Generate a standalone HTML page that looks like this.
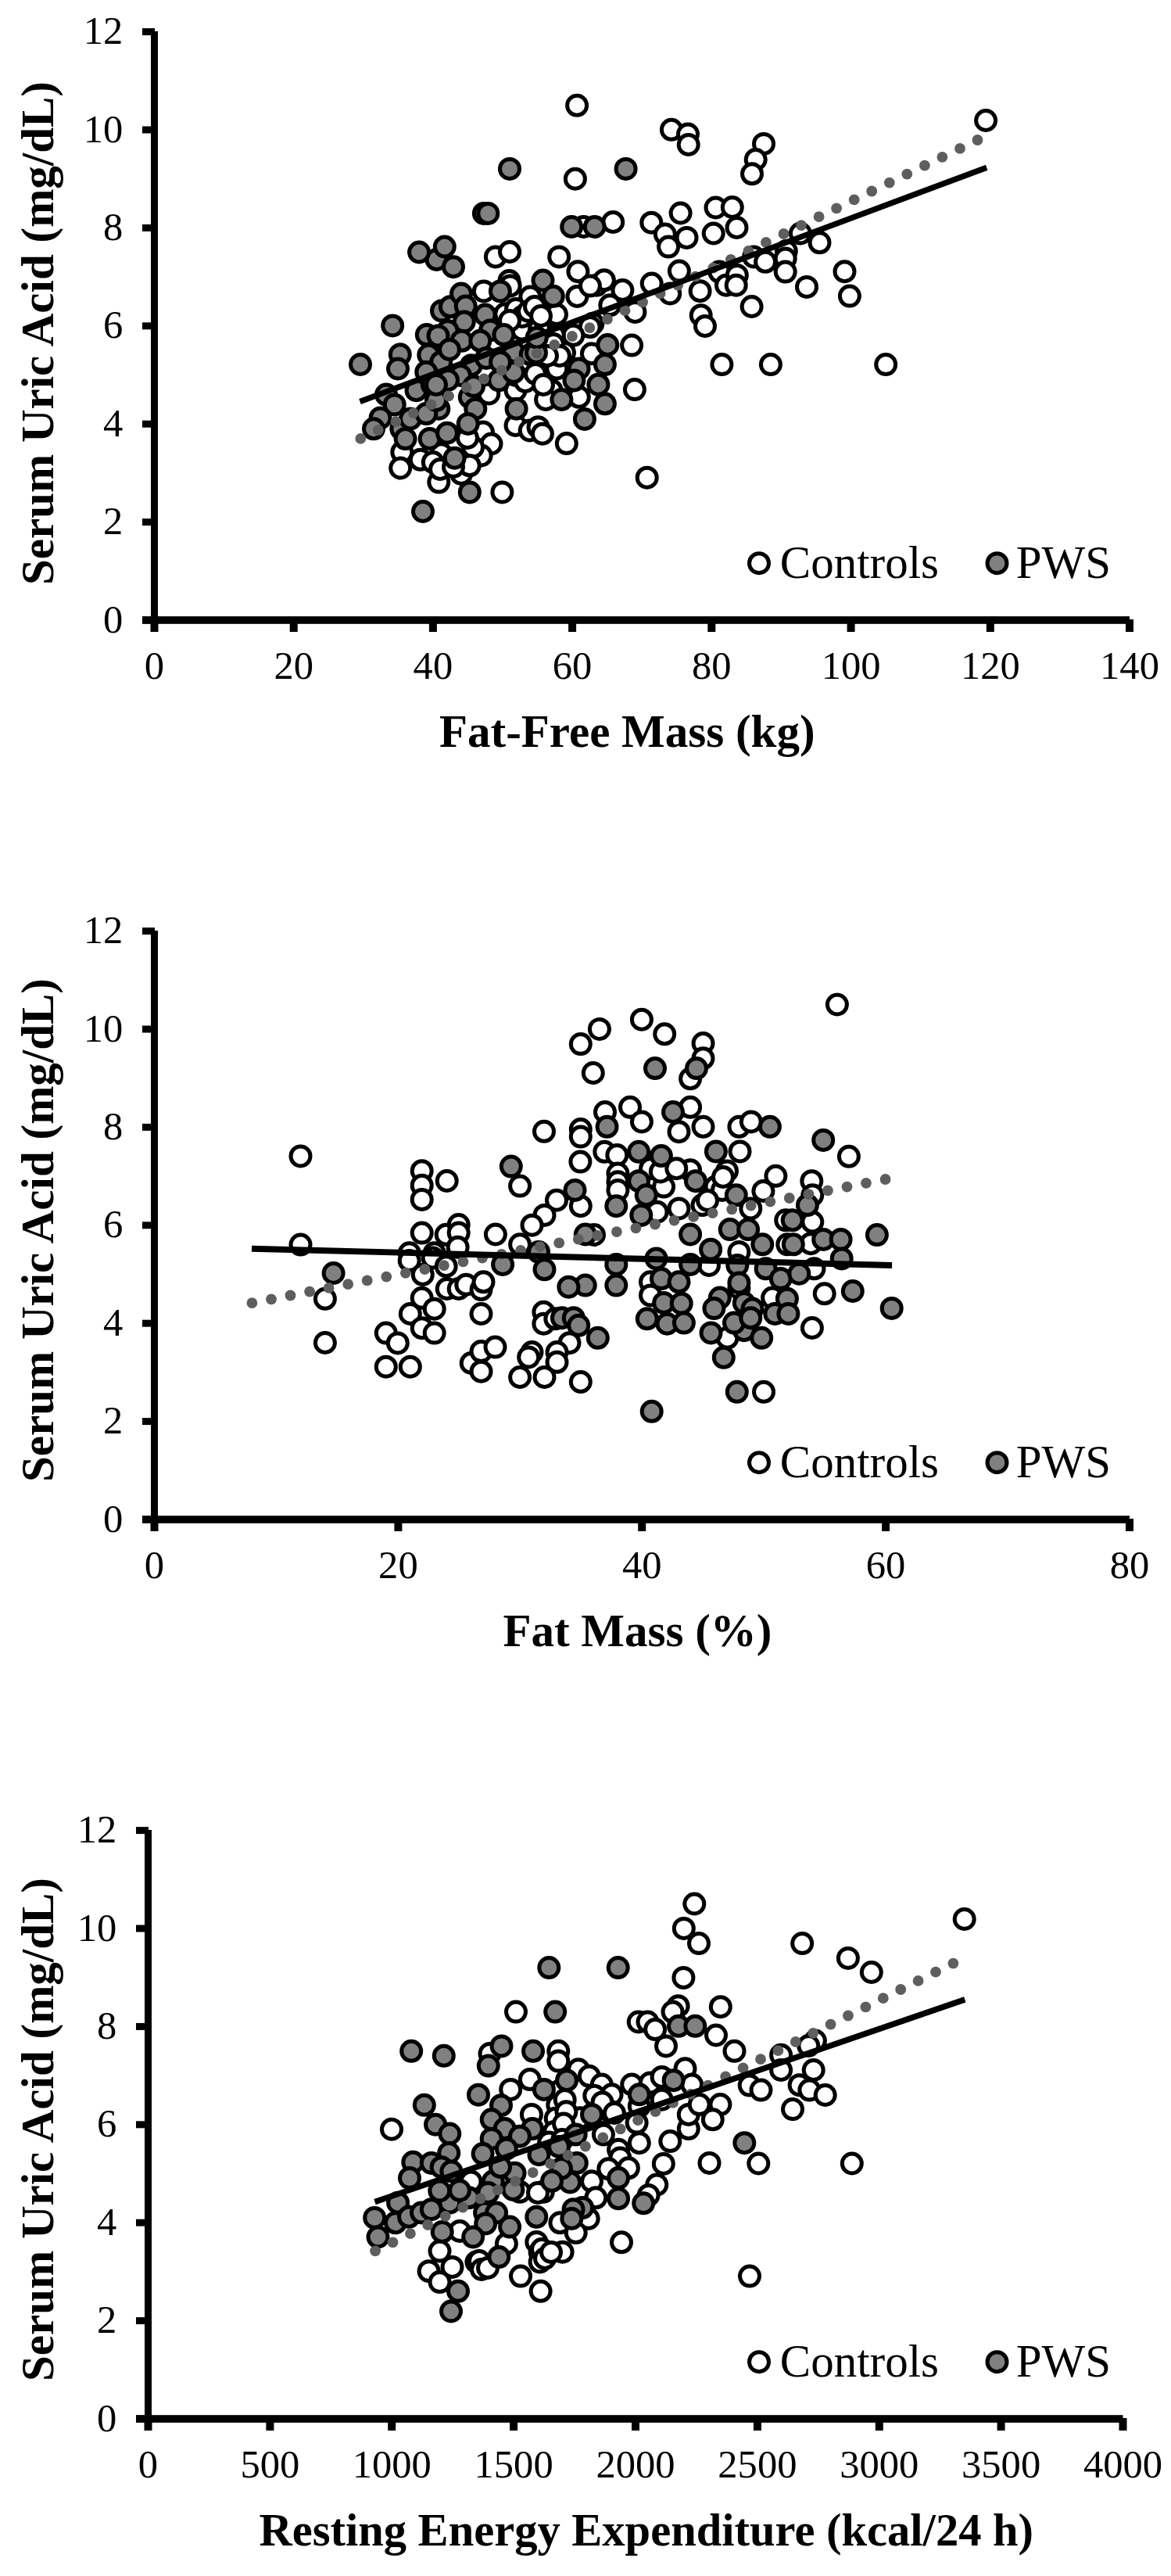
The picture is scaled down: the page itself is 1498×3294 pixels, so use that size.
<!DOCTYPE html>
<html><head><meta charset="utf-8"><style>
html,body{margin:0;padding:0;background:#fff;}
svg{display:block;}
text{font-family:'Liberation Serif', serif;fill:#000;}
</style></head><body>
<svg width="1498" height="3294" viewBox="0 0 1498 3294">
<rect x="0" y="0" width="1498" height="3294" fill="#fff"/>
<circle cx="738.1" cy="134.8" r="12.5" fill="#fff" stroke="#000" stroke-width="5"/>
<circle cx="858.9" cy="165.8" r="12.5" fill="#fff" stroke="#000" stroke-width="5"/>
<circle cx="880.0" cy="171.5" r="12.5" fill="#fff" stroke="#000" stroke-width="5"/>
<circle cx="880.7" cy="185.0" r="12.5" fill="#fff" stroke="#000" stroke-width="5"/>
<circle cx="735.9" cy="228.7" r="12.5" fill="#fff" stroke="#000" stroke-width="5"/>
<circle cx="870.6" cy="272.5" r="12.5" fill="#fff" stroke="#000" stroke-width="5"/>
<circle cx="915.5" cy="265.5" r="12.5" fill="#fff" stroke="#000" stroke-width="5"/>
<circle cx="784.2" cy="284.0" r="12.5" fill="#fff" stroke="#000" stroke-width="5"/>
<circle cx="833.3" cy="284.7" r="12.5" fill="#fff" stroke="#000" stroke-width="5"/>
<circle cx="977.0" cy="183.9" r="12.5" fill="#fff" stroke="#000" stroke-width="5"/>
<circle cx="966.7" cy="204.0" r="12.5" fill="#fff" stroke="#000" stroke-width="5"/>
<circle cx="962.0" cy="222.3" r="12.5" fill="#fff" stroke="#000" stroke-width="5"/>
<circle cx="936.8" cy="265.0" r="12.5" fill="#fff" stroke="#000" stroke-width="5"/>
<circle cx="1261.1" cy="154.0" r="12.5" fill="#fff" stroke="#000" stroke-width="5"/>
<circle cx="633.9" cy="328.4" r="12.5" fill="#fff" stroke="#000" stroke-width="5"/>
<circle cx="652.0" cy="322.0" r="12.5" fill="#fff" stroke="#000" stroke-width="5"/>
<circle cx="618.8" cy="372.4" r="12.5" fill="#fff" stroke="#000" stroke-width="5"/>
<circle cx="651.4" cy="359.0" r="12.5" fill="#fff" stroke="#000" stroke-width="5"/>
<circle cx="652.7" cy="365.4" r="12.5" fill="#fff" stroke="#000" stroke-width="5"/>
<circle cx="646.3" cy="401.2" r="12.5" fill="#fff" stroke="#000" stroke-width="5"/>
<circle cx="668.0" cy="421.7" r="12.5" fill="#fff" stroke="#000" stroke-width="5"/>
<circle cx="673.2" cy="401.2" r="12.5" fill="#fff" stroke="#000" stroke-width="5"/>
<circle cx="678.3" cy="379.5" r="12.5" fill="#fff" stroke="#000" stroke-width="5"/>
<circle cx="746.6" cy="290.0" r="12.5" fill="#fff" stroke="#000" stroke-width="5"/>
<circle cx="850.8" cy="299.6" r="12.5" fill="#fff" stroke="#000" stroke-width="5"/>
<circle cx="878.5" cy="303.9" r="12.5" fill="#fff" stroke="#000" stroke-width="5"/>
<circle cx="855.1" cy="315.6" r="12.5" fill="#fff" stroke="#000" stroke-width="5"/>
<circle cx="912.7" cy="298.5" r="12.5" fill="#fff" stroke="#000" stroke-width="5"/>
<circle cx="715.2" cy="328.4" r="12.5" fill="#fff" stroke="#000" stroke-width="5"/>
<circle cx="739.4" cy="347.2" r="12.5" fill="#fff" stroke="#000" stroke-width="5"/>
<circle cx="738.4" cy="379.0" r="12.5" fill="#fff" stroke="#000" stroke-width="5"/>
<circle cx="763.3" cy="364.7" r="12.5" fill="#fff" stroke="#000" stroke-width="5"/>
<circle cx="772.9" cy="358.3" r="12.5" fill="#fff" stroke="#000" stroke-width="5"/>
<circle cx="796.4" cy="371.0" r="12.5" fill="#fff" stroke="#000" stroke-width="5"/>
<circle cx="833.7" cy="362.6" r="12.5" fill="#fff" stroke="#000" stroke-width="5"/>
<circle cx="868.9" cy="346.6" r="12.5" fill="#fff" stroke="#000" stroke-width="5"/>
<circle cx="857.2" cy="375.4" r="12.5" fill="#fff" stroke="#000" stroke-width="5"/>
<circle cx="895.6" cy="372.2" r="12.5" fill="#fff" stroke="#000" stroke-width="5"/>
<circle cx="920.2" cy="347.6" r="12.5" fill="#fff" stroke="#000" stroke-width="5"/>
<circle cx="929.0" cy="364.7" r="12.5" fill="#fff" stroke="#000" stroke-width="5"/>
<circle cx="896.7" cy="403.2" r="12.5" fill="#fff" stroke="#000" stroke-width="5"/>
<circle cx="902.0" cy="417.0" r="12.5" fill="#fff" stroke="#000" stroke-width="5"/>
<circle cx="808.1" cy="441.6" r="12.5" fill="#fff" stroke="#000" stroke-width="5"/>
<circle cx="923.4" cy="466.1" r="12.5" fill="#fff" stroke="#000" stroke-width="5"/>
<circle cx="812.4" cy="398.9" r="12.5" fill="#fff" stroke="#000" stroke-width="5"/>
<circle cx="780.3" cy="390.3" r="12.5" fill="#fff" stroke="#000" stroke-width="5"/>
<circle cx="758.4" cy="413.8" r="12.5" fill="#fff" stroke="#000" stroke-width="5"/>
<circle cx="754.7" cy="418.1" r="12.5" fill="#fff" stroke="#000" stroke-width="5"/>
<circle cx="733.4" cy="428.8" r="12.5" fill="#fff" stroke="#000" stroke-width="5"/>
<circle cx="756.9" cy="452.3" r="12.5" fill="#fff" stroke="#000" stroke-width="5"/>
<circle cx="722.0" cy="451.0" r="12.5" fill="#fff" stroke="#000" stroke-width="5"/>
<circle cx="712.3" cy="471.4" r="12.5" fill="#fff" stroke="#000" stroke-width="5"/>
<circle cx="701.3" cy="394.6" r="12.5" fill="#fff" stroke="#000" stroke-width="5"/>
<circle cx="942.5" cy="291.0" r="12.5" fill="#fff" stroke="#000" stroke-width="5"/>
<circle cx="1023.9" cy="298.5" r="12.5" fill="#fff" stroke="#000" stroke-width="5"/>
<circle cx="1048.5" cy="310.3" r="12.5" fill="#fff" stroke="#000" stroke-width="5"/>
<circle cx="964.2" cy="328.4" r="12.5" fill="#fff" stroke="#000" stroke-width="5"/>
<circle cx="979.1" cy="334.8" r="12.5" fill="#fff" stroke="#000" stroke-width="5"/>
<circle cx="1005.8" cy="321.0" r="12.5" fill="#fff" stroke="#000" stroke-width="5"/>
<circle cx="1004.7" cy="330.6" r="12.5" fill="#fff" stroke="#000" stroke-width="5"/>
<circle cx="1004.7" cy="347.6" r="12.5" fill="#fff" stroke="#000" stroke-width="5"/>
<circle cx="942.8" cy="351.9" r="12.5" fill="#fff" stroke="#000" stroke-width="5"/>
<circle cx="941.7" cy="364.7" r="12.5" fill="#fff" stroke="#000" stroke-width="5"/>
<circle cx="1032.0" cy="366.9" r="12.5" fill="#fff" stroke="#000" stroke-width="5"/>
<circle cx="1080.5" cy="347.2" r="12.5" fill="#fff" stroke="#000" stroke-width="5"/>
<circle cx="1086.9" cy="378.6" r="12.5" fill="#fff" stroke="#000" stroke-width="5"/>
<circle cx="961.6" cy="392.0" r="12.5" fill="#fff" stroke="#000" stroke-width="5"/>
<circle cx="985.9" cy="466.1" r="12.5" fill="#fff" stroke="#000" stroke-width="5"/>
<circle cx="1133.2" cy="466.1" r="12.5" fill="#fff" stroke="#000" stroke-width="5"/>
<circle cx="625.3" cy="503.5" r="12.5" fill="#fff" stroke="#000" stroke-width="5"/>
<circle cx="659.5" cy="499.2" r="12.5" fill="#fff" stroke="#000" stroke-width="5"/>
<circle cx="659.5" cy="544.0" r="12.5" fill="#fff" stroke="#000" stroke-width="5"/>
<circle cx="677.7" cy="550.5" r="12.5" fill="#fff" stroke="#000" stroke-width="5"/>
<circle cx="617.9" cy="552.6" r="12.5" fill="#fff" stroke="#000" stroke-width="5"/>
<circle cx="628.5" cy="567.5" r="12.5" fill="#fff" stroke="#000" stroke-width="5"/>
<circle cx="615.7" cy="582.5" r="12.5" fill="#fff" stroke="#000" stroke-width="5"/>
<circle cx="514.3" cy="578.2" r="12.5" fill="#fff" stroke="#000" stroke-width="5"/>
<circle cx="512.2" cy="598.5" r="12.5" fill="#fff" stroke="#000" stroke-width="5"/>
<circle cx="537.8" cy="587.8" r="12.5" fill="#fff" stroke="#000" stroke-width="5"/>
<circle cx="564.5" cy="580.3" r="12.5" fill="#fff" stroke="#000" stroke-width="5"/>
<circle cx="561.3" cy="616.6" r="12.5" fill="#fff" stroke="#000" stroke-width="5"/>
<circle cx="590.1" cy="606.0" r="12.5" fill="#fff" stroke="#000" stroke-width="5"/>
<circle cx="642.4" cy="629.4" r="12.5" fill="#fff" stroke="#000" stroke-width="5"/>
<circle cx="605.1" cy="571.8" r="12.5" fill="#fff" stroke="#000" stroke-width="5"/>
<circle cx="553.8" cy="591.0" r="12.5" fill="#fff" stroke="#000" stroke-width="5"/>
<circle cx="600.8" cy="595.3" r="12.5" fill="#fff" stroke="#000" stroke-width="5"/>
<circle cx="740.8" cy="507.8" r="12.5" fill="#fff" stroke="#000" stroke-width="5"/>
<circle cx="705.6" cy="499.2" r="12.5" fill="#fff" stroke="#000" stroke-width="5"/>
<circle cx="698.1" cy="511.0" r="12.5" fill="#fff" stroke="#000" stroke-width="5"/>
<circle cx="684.3" cy="484.3" r="12.5" fill="#fff" stroke="#000" stroke-width="5"/>
<circle cx="688.5" cy="546.2" r="12.5" fill="#fff" stroke="#000" stroke-width="5"/>
<circle cx="693.9" cy="554.7" r="12.5" fill="#fff" stroke="#000" stroke-width="5"/>
<circle cx="724.8" cy="567.1" r="12.5" fill="#fff" stroke="#000" stroke-width="5"/>
<circle cx="811.9" cy="498.1" r="12.5" fill="#fff" stroke="#000" stroke-width="5"/>
<circle cx="827.7" cy="610.7" r="12.5" fill="#fff" stroke="#000" stroke-width="5"/>
<circle cx="700.0" cy="397.0" r="12.5" fill="#fff" stroke="#000" stroke-width="5"/>
<circle cx="712.0" cy="402.0" r="12.5" fill="#fff" stroke="#000" stroke-width="5"/>
<circle cx="754.9" cy="365.6" r="12.5" fill="#fff" stroke="#000" stroke-width="5"/>
<circle cx="708.8" cy="428.8" r="12.5" fill="#fff" stroke="#000" stroke-width="5"/>
<circle cx="690.0" cy="420.0" r="12.5" fill="#fff" stroke="#000" stroke-width="5"/>
<circle cx="700.0" cy="440.0" r="12.5" fill="#fff" stroke="#000" stroke-width="5"/>
<circle cx="670.0" cy="402.0" r="12.5" fill="#fff" stroke="#000" stroke-width="5"/>
<circle cx="563.0" cy="600.0" r="12.5" fill="#fff" stroke="#000" stroke-width="5"/>
<circle cx="580.0" cy="597.0" r="12.5" fill="#fff" stroke="#000" stroke-width="5"/>
<circle cx="598.0" cy="560.0" r="12.5" fill="#fff" stroke="#000" stroke-width="5"/>
<circle cx="660.0" cy="395.0" r="12.5" fill="#fff" stroke="#000" stroke-width="5"/>
<circle cx="668.0" cy="405.0" r="12.5" fill="#fff" stroke="#000" stroke-width="5"/>
<circle cx="676.0" cy="398.0" r="12.5" fill="#fff" stroke="#000" stroke-width="5"/>
<circle cx="684.0" cy="392.0" r="12.5" fill="#fff" stroke="#000" stroke-width="5"/>
<circle cx="692.0" cy="404.0" r="12.5" fill="#fff" stroke="#000" stroke-width="5"/>
<circle cx="652.0" cy="410.0" r="12.5" fill="#fff" stroke="#000" stroke-width="5"/>
<circle cx="708.0" cy="440.0" r="12.5" fill="#fff" stroke="#000" stroke-width="5"/>
<circle cx="716.0" cy="455.0" r="12.5" fill="#fff" stroke="#000" stroke-width="5"/>
<circle cx="700.0" cy="455.0" r="12.5" fill="#fff" stroke="#000" stroke-width="5"/>
<circle cx="660.0" cy="480.0" r="12.5" fill="#fff" stroke="#000" stroke-width="5"/>
<circle cx="672.0" cy="488.0" r="12.5" fill="#fff" stroke="#000" stroke-width="5"/>
<circle cx="685.0" cy="478.0" r="12.5" fill="#fff" stroke="#000" stroke-width="5"/>
<circle cx="695.0" cy="492.0" r="12.5" fill="#fff" stroke="#000" stroke-width="5"/>
<circle cx="652.0" cy="215.9" r="12.5" fill="#808080" stroke="#000" stroke-width="5"/>
<circle cx="618.9" cy="272.9" r="12.5" fill="#808080" stroke="#000" stroke-width="5"/>
<circle cx="624.3" cy="272.9" r="12.5" fill="#808080" stroke="#000" stroke-width="5"/>
<circle cx="800.6" cy="215.9" r="12.5" fill="#808080" stroke="#000" stroke-width="5"/>
<circle cx="558.5" cy="332.0" r="12.5" fill="#808080" stroke="#000" stroke-width="5"/>
<circle cx="536.1" cy="322.5" r="12.5" fill="#808080" stroke="#000" stroke-width="5"/>
<circle cx="568.8" cy="315.5" r="12.5" fill="#808080" stroke="#000" stroke-width="5"/>
<circle cx="580.0" cy="341.2" r="12.5" fill="#808080" stroke="#000" stroke-width="5"/>
<circle cx="502.2" cy="416.4" r="12.5" fill="#808080" stroke="#000" stroke-width="5"/>
<circle cx="461.0" cy="466.0" r="12.5" fill="#808080" stroke="#000" stroke-width="5"/>
<circle cx="511.8" cy="453.3" r="12.5" fill="#808080" stroke="#000" stroke-width="5"/>
<circle cx="509.0" cy="471.5" r="12.5" fill="#808080" stroke="#000" stroke-width="5"/>
<circle cx="565.0" cy="397.4" r="12.5" fill="#808080" stroke="#000" stroke-width="5"/>
<circle cx="575.9" cy="392.3" r="12.5" fill="#808080" stroke="#000" stroke-width="5"/>
<circle cx="590.0" cy="375.6" r="12.5" fill="#808080" stroke="#000" stroke-width="5"/>
<circle cx="595.7" cy="391.6" r="12.5" fill="#808080" stroke="#000" stroke-width="5"/>
<circle cx="593.8" cy="411.5" r="12.5" fill="#808080" stroke="#000" stroke-width="5"/>
<circle cx="572.7" cy="423.0" r="12.5" fill="#808080" stroke="#000" stroke-width="5"/>
<circle cx="545.8" cy="428.1" r="12.5" fill="#808080" stroke="#000" stroke-width="5"/>
<circle cx="560.5" cy="429.4" r="12.5" fill="#808080" stroke="#000" stroke-width="5"/>
<circle cx="590.6" cy="435.8" r="12.5" fill="#808080" stroke="#000" stroke-width="5"/>
<circle cx="620.7" cy="402.5" r="12.5" fill="#808080" stroke="#000" stroke-width="5"/>
<circle cx="627.1" cy="422.4" r="12.5" fill="#808080" stroke="#000" stroke-width="5"/>
<circle cx="614.3" cy="435.8" r="12.5" fill="#808080" stroke="#000" stroke-width="5"/>
<circle cx="644.4" cy="428.1" r="12.5" fill="#808080" stroke="#000" stroke-width="5"/>
<circle cx="639.9" cy="372.4" r="12.5" fill="#808080" stroke="#000" stroke-width="5"/>
<circle cx="548.3" cy="453.8" r="12.5" fill="#808080" stroke="#000" stroke-width="5"/>
<circle cx="564.3" cy="462.7" r="12.5" fill="#808080" stroke="#000" stroke-width="5"/>
<circle cx="657.2" cy="449.9" r="12.5" fill="#808080" stroke="#000" stroke-width="5"/>
<circle cx="545.3" cy="475.7" r="12.5" fill="#808080" stroke="#000" stroke-width="5"/>
<circle cx="602.9" cy="467.2" r="12.5" fill="#808080" stroke="#000" stroke-width="5"/>
<circle cx="678.7" cy="453.3" r="12.5" fill="#808080" stroke="#000" stroke-width="5"/>
<circle cx="731.2" cy="290.0" r="12.5" fill="#808080" stroke="#000" stroke-width="5"/>
<circle cx="760.7" cy="290.0" r="12.5" fill="#808080" stroke="#000" stroke-width="5"/>
<circle cx="694.5" cy="358.5" r="12.5" fill="#808080" stroke="#000" stroke-width="5"/>
<circle cx="707.8" cy="378.8" r="12.5" fill="#808080" stroke="#000" stroke-width="5"/>
<circle cx="777.3" cy="441.0" r="12.5" fill="#808080" stroke="#000" stroke-width="5"/>
<circle cx="773.9" cy="466.1" r="12.5" fill="#808080" stroke="#000" stroke-width="5"/>
<circle cx="740.6" cy="471.5" r="12.5" fill="#808080" stroke="#000" stroke-width="5"/>
<circle cx="686.0" cy="451.0" r="12.5" fill="#808080" stroke="#000" stroke-width="5"/>
<circle cx="686.7" cy="431.7" r="12.5" fill="#808080" stroke="#000" stroke-width="5"/>
<circle cx="494.0" cy="504.6" r="12.5" fill="#808080" stroke="#000" stroke-width="5"/>
<circle cx="504.7" cy="517.4" r="12.5" fill="#808080" stroke="#000" stroke-width="5"/>
<circle cx="486.6" cy="534.4" r="12.5" fill="#808080" stroke="#000" stroke-width="5"/>
<circle cx="478.0" cy="548.3" r="12.5" fill="#808080" stroke="#000" stroke-width="5"/>
<circle cx="513.3" cy="548.3" r="12.5" fill="#808080" stroke="#000" stroke-width="5"/>
<circle cx="518.6" cy="561.1" r="12.5" fill="#808080" stroke="#000" stroke-width="5"/>
<circle cx="525.0" cy="535.5" r="12.5" fill="#808080" stroke="#000" stroke-width="5"/>
<circle cx="532.5" cy="499.2" r="12.5" fill="#808080" stroke="#000" stroke-width="5"/>
<circle cx="552.8" cy="491.7" r="12.5" fill="#808080" stroke="#000" stroke-width="5"/>
<circle cx="561.3" cy="522.7" r="12.5" fill="#808080" stroke="#000" stroke-width="5"/>
<circle cx="549.6" cy="561.1" r="12.5" fill="#808080" stroke="#000" stroke-width="5"/>
<circle cx="572.0" cy="553.7" r="12.5" fill="#808080" stroke="#000" stroke-width="5"/>
<circle cx="545.3" cy="529.1" r="12.5" fill="#808080" stroke="#000" stroke-width="5"/>
<circle cx="638.2" cy="486.4" r="12.5" fill="#808080" stroke="#000" stroke-width="5"/>
<circle cx="600.8" cy="507.8" r="12.5" fill="#808080" stroke="#000" stroke-width="5"/>
<circle cx="608.3" cy="522.7" r="12.5" fill="#808080" stroke="#000" stroke-width="5"/>
<circle cx="598.7" cy="541.9" r="12.5" fill="#808080" stroke="#000" stroke-width="5"/>
<circle cx="581.6" cy="585.7" r="12.5" fill="#808080" stroke="#000" stroke-width="5"/>
<circle cx="600.8" cy="629.4" r="12.5" fill="#808080" stroke="#000" stroke-width="5"/>
<circle cx="541.0" cy="654.0" r="12.5" fill="#808080" stroke="#000" stroke-width="5"/>
<circle cx="660.6" cy="522.7" r="12.5" fill="#808080" stroke="#000" stroke-width="5"/>
<circle cx="734.4" cy="486.4" r="12.5" fill="#808080" stroke="#000" stroke-width="5"/>
<circle cx="765.4" cy="491.7" r="12.5" fill="#808080" stroke="#000" stroke-width="5"/>
<circle cx="718.4" cy="511.0" r="12.5" fill="#808080" stroke="#000" stroke-width="5"/>
<circle cx="773.9" cy="516.3" r="12.5" fill="#808080" stroke="#000" stroke-width="5"/>
<circle cx="747.9" cy="535.9" r="12.5" fill="#808080" stroke="#000" stroke-width="5"/>
<circle cx="589.0" cy="480.0" r="12.5" fill="#808080" stroke="#000" stroke-width="5"/>
<circle cx="573.0" cy="486.0" r="12.5" fill="#808080" stroke="#000" stroke-width="5"/>
<circle cx="558.0" cy="512.0" r="12.5" fill="#808080" stroke="#000" stroke-width="5"/>
<circle cx="606.0" cy="494.0" r="12.5" fill="#808080" stroke="#000" stroke-width="5"/>
<circle cx="657.0" cy="476.0" r="12.5" fill="#808080" stroke="#000" stroke-width="5"/>
<circle cx="558.0" cy="492.0" r="12.5" fill="#808080" stroke="#000" stroke-width="5"/>
<circle cx="622.0" cy="458.0" r="12.5" fill="#808080" stroke="#000" stroke-width="5"/>
<circle cx="640.0" cy="463.0" r="12.5" fill="#808080" stroke="#000" stroke-width="5"/>
<circle cx="575.0" cy="447.0" r="12.5" fill="#808080" stroke="#000" stroke-width="5"/>
<circle cx="461.3" cy="560.9" r="6.9" fill="#5e5e5e"/>
<circle cx="483.8" cy="550.0" r="6.9" fill="#5e5e5e"/>
<circle cx="506.4" cy="539.1" r="6.9" fill="#5e5e5e"/>
<circle cx="528.9" cy="528.2" r="6.9" fill="#5e5e5e"/>
<circle cx="551.5" cy="517.3" r="6.9" fill="#5e5e5e"/>
<circle cx="574.0" cy="506.3" r="6.9" fill="#5e5e5e"/>
<circle cx="596.6" cy="495.4" r="6.9" fill="#5e5e5e"/>
<circle cx="619.1" cy="484.5" r="6.9" fill="#5e5e5e"/>
<circle cx="641.7" cy="473.6" r="6.9" fill="#5e5e5e"/>
<circle cx="664.2" cy="462.7" r="6.9" fill="#5e5e5e"/>
<circle cx="686.8" cy="451.8" r="6.9" fill="#5e5e5e"/>
<circle cx="709.3" cy="440.9" r="6.9" fill="#5e5e5e"/>
<circle cx="731.9" cy="430.0" r="6.9" fill="#5e5e5e"/>
<circle cx="754.4" cy="419.1" r="6.9" fill="#5e5e5e"/>
<circle cx="777.0" cy="408.1" r="6.9" fill="#5e5e5e"/>
<circle cx="799.5" cy="397.2" r="6.9" fill="#5e5e5e"/>
<circle cx="822.1" cy="386.3" r="6.9" fill="#5e5e5e"/>
<circle cx="844.6" cy="375.4" r="6.9" fill="#5e5e5e"/>
<circle cx="867.2" cy="364.5" r="6.9" fill="#5e5e5e"/>
<circle cx="889.7" cy="353.6" r="6.9" fill="#5e5e5e"/>
<circle cx="912.3" cy="342.7" r="6.9" fill="#5e5e5e"/>
<circle cx="934.8" cy="331.8" r="6.9" fill="#5e5e5e"/>
<circle cx="957.4" cy="320.8" r="6.9" fill="#5e5e5e"/>
<circle cx="979.9" cy="309.9" r="6.9" fill="#5e5e5e"/>
<circle cx="1002.5" cy="299.0" r="6.9" fill="#5e5e5e"/>
<circle cx="1025.0" cy="288.1" r="6.9" fill="#5e5e5e"/>
<circle cx="1047.6" cy="277.2" r="6.9" fill="#5e5e5e"/>
<circle cx="1070.1" cy="266.3" r="6.9" fill="#5e5e5e"/>
<circle cx="1092.7" cy="255.4" r="6.9" fill="#5e5e5e"/>
<circle cx="1115.2" cy="244.5" r="6.9" fill="#5e5e5e"/>
<circle cx="1137.8" cy="233.6" r="6.9" fill="#5e5e5e"/>
<circle cx="1160.3" cy="222.6" r="6.9" fill="#5e5e5e"/>
<circle cx="1182.9" cy="211.7" r="6.9" fill="#5e5e5e"/>
<circle cx="1205.4" cy="200.8" r="6.9" fill="#5e5e5e"/>
<circle cx="1228.0" cy="189.9" r="6.9" fill="#5e5e5e"/>
<circle cx="1250.5" cy="179.0" r="6.9" fill="#5e5e5e"/>
<line x1="460.5" y1="513.5" x2="1262.2" y2="214.2" stroke="#000" stroke-width="7.40"/>
<rect x="193.0" y="40.0" width="9.0" height="768.0" fill="#000"/>
<rect x="182.0" y="788.1" width="1263.0" height="9.7" fill="#000"/>
<rect x="182.0" y="788.5" width="16.0" height="9.0" fill="#000"/>
<text x="157.4" y="808.6" font-size="50.57" font-weight="normal" text-anchor="end" >0</text>
<rect x="182.0" y="663.1" width="16.0" height="9.0" fill="#000"/>
<text x="157.4" y="683.2" font-size="50.57" font-weight="normal" text-anchor="end" >2</text>
<rect x="182.0" y="537.7" width="16.0" height="9.0" fill="#000"/>
<text x="157.4" y="557.8" font-size="50.57" font-weight="normal" text-anchor="end" >4</text>
<rect x="182.0" y="412.3" width="16.0" height="9.0" fill="#000"/>
<text x="157.4" y="432.4" font-size="50.57" font-weight="normal" text-anchor="end" >6</text>
<rect x="182.0" y="286.9" width="16.0" height="9.0" fill="#000"/>
<text x="157.4" y="307.0" font-size="50.57" font-weight="normal" text-anchor="end" >8</text>
<rect x="182.0" y="161.5" width="16.0" height="9.0" fill="#000"/>
<text x="157.4" y="181.6" font-size="50.57" font-weight="normal" text-anchor="end" >10</text>
<rect x="182.0" y="36.1" width="16.0" height="9.0" fill="#000"/>
<text x="157.4" y="56.2" font-size="50.57" font-weight="normal" text-anchor="end" >12</text>
<rect x="192.5" y="792.0" width="10.0" height="16.0" fill="#000"/>
<text x="197.5" y="867.5" font-size="50.57" font-weight="normal" text-anchor="middle" >0</text>
<rect x="370.7" y="792.0" width="10.0" height="16.0" fill="#000"/>
<text x="375.7" y="867.5" font-size="50.57" font-weight="normal" text-anchor="middle" >20</text>
<rect x="548.9" y="792.0" width="10.0" height="16.0" fill="#000"/>
<text x="553.9" y="867.5" font-size="50.57" font-weight="normal" text-anchor="middle" >40</text>
<rect x="727.1" y="792.0" width="10.0" height="16.0" fill="#000"/>
<text x="732.1" y="867.5" font-size="50.57" font-weight="normal" text-anchor="middle" >60</text>
<rect x="905.3" y="792.0" width="10.0" height="16.0" fill="#000"/>
<text x="910.3" y="867.5" font-size="50.57" font-weight="normal" text-anchor="middle" >80</text>
<rect x="1083.6" y="792.0" width="10.0" height="16.0" fill="#000"/>
<text x="1088.6" y="867.5" font-size="50.57" font-weight="normal" text-anchor="middle" >100</text>
<rect x="1261.8" y="792.0" width="10.0" height="16.0" fill="#000"/>
<text x="1266.8" y="867.5" font-size="50.57" font-weight="normal" text-anchor="middle" >120</text>
<rect x="1440.0" y="792.0" width="10.0" height="16.0" fill="#000"/>
<text x="1445.0" y="867.5" font-size="50.57" font-weight="normal" text-anchor="middle" >140</text>
<text x="562.0" y="955.0" font-size="59" font-weight="bold" text-anchor="start" >Fat-Free Mass (kg)</text>
<text transform="translate(67.6,426) rotate(-90)" x="0" y="0" font-size="59" font-weight="bold" text-anchor="middle">Serum Uric Acid (mg/dL)</text>
<circle cx="971" cy="720.2" r="12.5" fill="#fff" stroke="#000" stroke-width="5"/>
<text x="997.8" y="739.2" font-size="59" font-weight="normal" text-anchor="start" >Controls</text>
<circle cx="1275.5" cy="720.2" r="12.5" fill="#808080" stroke="#000" stroke-width="5"/>
<text x="1299.8" y="739.2" font-size="59" font-weight="normal" text-anchor="start" >PWS</text>
<circle cx="384.5" cy="1478.4" r="12.5" fill="#fff" stroke="#000" stroke-width="5"/>
<circle cx="539.7" cy="1497.2" r="12.5" fill="#fff" stroke="#000" stroke-width="5"/>
<circle cx="539.7" cy="1515.8" r="12.5" fill="#fff" stroke="#000" stroke-width="5"/>
<circle cx="539.7" cy="1533.9" r="12.5" fill="#fff" stroke="#000" stroke-width="5"/>
<circle cx="571.7" cy="1510.0" r="12.5" fill="#fff" stroke="#000" stroke-width="5"/>
<circle cx="384.5" cy="1591.6" r="12.5" fill="#fff" stroke="#000" stroke-width="5"/>
<circle cx="539.7" cy="1576.6" r="12.5" fill="#fff" stroke="#000" stroke-width="5"/>
<circle cx="570.7" cy="1578.8" r="12.5" fill="#fff" stroke="#000" stroke-width="5"/>
<circle cx="586.7" cy="1566.0" r="12.5" fill="#fff" stroke="#000" stroke-width="5"/>
<circle cx="586.7" cy="1576.6" r="12.5" fill="#fff" stroke="#000" stroke-width="5"/>
<circle cx="585.6" cy="1594.8" r="12.5" fill="#fff" stroke="#000" stroke-width="5"/>
<circle cx="523.7" cy="1602.3" r="12.5" fill="#fff" stroke="#000" stroke-width="5"/>
<circle cx="555.7" cy="1602.3" r="12.5" fill="#fff" stroke="#000" stroke-width="5"/>
<circle cx="523.7" cy="1612.0" r="12.5" fill="#fff" stroke="#000" stroke-width="5"/>
<circle cx="553.6" cy="1608.5" r="12.5" fill="#fff" stroke="#000" stroke-width="5"/>
<circle cx="570.7" cy="1619.2" r="12.5" fill="#fff" stroke="#000" stroke-width="5"/>
<circle cx="540.8" cy="1629.9" r="12.5" fill="#fff" stroke="#000" stroke-width="5"/>
<circle cx="415.9" cy="1660.8" r="12.5" fill="#fff" stroke="#000" stroke-width="5"/>
<circle cx="415.9" cy="1717.0" r="12.5" fill="#fff" stroke="#000" stroke-width="5"/>
<circle cx="493.8" cy="1704.6" r="12.5" fill="#fff" stroke="#000" stroke-width="5"/>
<circle cx="508.8" cy="1717.4" r="12.5" fill="#fff" stroke="#000" stroke-width="5"/>
<circle cx="493.8" cy="1747.7" r="12.5" fill="#fff" stroke="#000" stroke-width="5"/>
<circle cx="524.8" cy="1747.7" r="12.5" fill="#fff" stroke="#000" stroke-width="5"/>
<circle cx="524.8" cy="1680.0" r="12.5" fill="#fff" stroke="#000" stroke-width="5"/>
<circle cx="539.7" cy="1659.8" r="12.5" fill="#fff" stroke="#000" stroke-width="5"/>
<circle cx="555.7" cy="1673.7" r="12.5" fill="#fff" stroke="#000" stroke-width="5"/>
<circle cx="539.7" cy="1698.2" r="12.5" fill="#fff" stroke="#000" stroke-width="5"/>
<circle cx="555.7" cy="1704.6" r="12.5" fill="#fff" stroke="#000" stroke-width="5"/>
<circle cx="571.7" cy="1648.0" r="12.5" fill="#fff" stroke="#000" stroke-width="5"/>
<circle cx="586.7" cy="1648.0" r="12.5" fill="#fff" stroke="#000" stroke-width="5"/>
<circle cx="596.3" cy="1642.7" r="12.5" fill="#fff" stroke="#000" stroke-width="5"/>
<circle cx="615.5" cy="1649.1" r="12.5" fill="#fff" stroke="#000" stroke-width="5"/>
<circle cx="615.5" cy="1680.0" r="12.5" fill="#fff" stroke="#000" stroke-width="5"/>
<circle cx="602.7" cy="1743.0" r="12.5" fill="#fff" stroke="#000" stroke-width="5"/>
<circle cx="615.5" cy="1728.1" r="12.5" fill="#fff" stroke="#000" stroke-width="5"/>
<circle cx="615.5" cy="1753.7" r="12.5" fill="#fff" stroke="#000" stroke-width="5"/>
<circle cx="766.9" cy="1315.9" r="12.5" fill="#fff" stroke="#000" stroke-width="5"/>
<circle cx="742.8" cy="1335.1" r="12.5" fill="#fff" stroke="#000" stroke-width="5"/>
<circle cx="820.9" cy="1303.7" r="12.5" fill="#fff" stroke="#000" stroke-width="5"/>
<circle cx="850.2" cy="1322.3" r="12.5" fill="#fff" stroke="#000" stroke-width="5"/>
<circle cx="758.8" cy="1372.0" r="12.5" fill="#fff" stroke="#000" stroke-width="5"/>
<circle cx="774.0" cy="1422.0" r="12.5" fill="#fff" stroke="#000" stroke-width="5"/>
<circle cx="806.0" cy="1415.8" r="12.5" fill="#fff" stroke="#000" stroke-width="5"/>
<circle cx="820.9" cy="1434.4" r="12.5" fill="#fff" stroke="#000" stroke-width="5"/>
<circle cx="696.0" cy="1446.8" r="12.5" fill="#fff" stroke="#000" stroke-width="5"/>
<circle cx="742.8" cy="1444.0" r="12.5" fill="#fff" stroke="#000" stroke-width="5"/>
<circle cx="742.8" cy="1453.6" r="12.5" fill="#fff" stroke="#000" stroke-width="5"/>
<circle cx="1070.9" cy="1284.5" r="12.5" fill="#fff" stroke="#000" stroke-width="5"/>
<circle cx="899.5" cy="1334.0" r="12.5" fill="#fff" stroke="#000" stroke-width="5"/>
<circle cx="899.5" cy="1353.3" r="12.5" fill="#fff" stroke="#000" stroke-width="5"/>
<circle cx="883.1" cy="1379.3" r="12.5" fill="#fff" stroke="#000" stroke-width="5"/>
<circle cx="883.1" cy="1415.8" r="12.5" fill="#fff" stroke="#000" stroke-width="5"/>
<circle cx="899.5" cy="1440.8" r="12.5" fill="#fff" stroke="#000" stroke-width="5"/>
<circle cx="868.5" cy="1447.2" r="12.5" fill="#fff" stroke="#000" stroke-width="5"/>
<circle cx="945.4" cy="1440.8" r="12.5" fill="#fff" stroke="#000" stroke-width="5"/>
<circle cx="960.8" cy="1434.4" r="12.5" fill="#fff" stroke="#000" stroke-width="5"/>
<circle cx="665.1" cy="1516.6" r="12.5" fill="#fff" stroke="#000" stroke-width="5"/>
<circle cx="712.0" cy="1534.7" r="12.5" fill="#fff" stroke="#000" stroke-width="5"/>
<circle cx="742.8" cy="1542.2" r="12.5" fill="#fff" stroke="#000" stroke-width="5"/>
<circle cx="696.5" cy="1553.9" r="12.5" fill="#fff" stroke="#000" stroke-width="5"/>
<circle cx="680.5" cy="1566.7" r="12.5" fill="#fff" stroke="#000" stroke-width="5"/>
<circle cx="633.9" cy="1578.5" r="12.5" fill="#fff" stroke="#000" stroke-width="5"/>
<circle cx="665.1" cy="1591.3" r="12.5" fill="#fff" stroke="#000" stroke-width="5"/>
<circle cx="618.5" cy="1639.3" r="12.5" fill="#fff" stroke="#000" stroke-width="5"/>
<circle cx="742.4" cy="1485.6" r="12.5" fill="#fff" stroke="#000" stroke-width="5"/>
<circle cx="773.3" cy="1472.8" r="12.5" fill="#fff" stroke="#000" stroke-width="5"/>
<circle cx="789.3" cy="1477.1" r="12.5" fill="#fff" stroke="#000" stroke-width="5"/>
<circle cx="790.4" cy="1500.6" r="12.5" fill="#fff" stroke="#000" stroke-width="5"/>
<circle cx="790.4" cy="1511.2" r="12.5" fill="#fff" stroke="#000" stroke-width="5"/>
<circle cx="790.4" cy="1521.9" r="12.5" fill="#fff" stroke="#000" stroke-width="5"/>
<circle cx="832.0" cy="1494.2" r="12.5" fill="#fff" stroke="#000" stroke-width="5"/>
<circle cx="849.1" cy="1517.6" r="12.5" fill="#fff" stroke="#000" stroke-width="5"/>
<circle cx="844.8" cy="1498.4" r="12.5" fill="#fff" stroke="#000" stroke-width="5"/>
<circle cx="840.6" cy="1549.7" r="12.5" fill="#fff" stroke="#000" stroke-width="5"/>
<circle cx="760.0" cy="1579.0" r="12.5" fill="#fff" stroke="#000" stroke-width="5"/>
<circle cx="832.0" cy="1639.3" r="12.5" fill="#fff" stroke="#000" stroke-width="5"/>
<circle cx="946.5" cy="1472.4" r="12.5" fill="#fff" stroke="#000" stroke-width="5"/>
<circle cx="1085.9" cy="1478.8" r="12.5" fill="#fff" stroke="#000" stroke-width="5"/>
<circle cx="883.1" cy="1496.3" r="12.5" fill="#fff" stroke="#000" stroke-width="5"/>
<circle cx="930.0" cy="1497.4" r="12.5" fill="#fff" stroke="#000" stroke-width="5"/>
<circle cx="992.4" cy="1503.8" r="12.5" fill="#fff" stroke="#000" stroke-width="5"/>
<circle cx="976.4" cy="1523.0" r="12.5" fill="#fff" stroke="#000" stroke-width="5"/>
<circle cx="1038.3" cy="1510.2" r="12.5" fill="#fff" stroke="#000" stroke-width="5"/>
<circle cx="1039.3" cy="1528.3" r="12.5" fill="#fff" stroke="#000" stroke-width="5"/>
<circle cx="915.5" cy="1517.6" r="12.5" fill="#fff" stroke="#000" stroke-width="5"/>
<circle cx="924.0" cy="1521.9" r="12.5" fill="#fff" stroke="#000" stroke-width="5"/>
<circle cx="898.4" cy="1541.1" r="12.5" fill="#fff" stroke="#000" stroke-width="5"/>
<circle cx="865.3" cy="1494.2" r="12.5" fill="#fff" stroke="#000" stroke-width="5"/>
<circle cx="868.5" cy="1545.4" r="12.5" fill="#fff" stroke="#000" stroke-width="5"/>
<circle cx="960.3" cy="1545.4" r="12.5" fill="#fff" stroke="#000" stroke-width="5"/>
<circle cx="1005.2" cy="1560.3" r="12.5" fill="#fff" stroke="#000" stroke-width="5"/>
<circle cx="1039.3" cy="1562.5" r="12.5" fill="#fff" stroke="#000" stroke-width="5"/>
<circle cx="1007.3" cy="1591.3" r="12.5" fill="#fff" stroke="#000" stroke-width="5"/>
<circle cx="1037.2" cy="1590.2" r="12.5" fill="#fff" stroke="#000" stroke-width="5"/>
<circle cx="907.0" cy="1618.0" r="12.5" fill="#fff" stroke="#000" stroke-width="5"/>
<circle cx="945.4" cy="1600.9" r="12.5" fill="#fff" stroke="#000" stroke-width="5"/>
<circle cx="1041.5" cy="1622.3" r="12.5" fill="#fff" stroke="#000" stroke-width="5"/>
<circle cx="633.5" cy="1722.6" r="12.5" fill="#fff" stroke="#000" stroke-width="5"/>
<circle cx="695.4" cy="1677.8" r="12.5" fill="#fff" stroke="#000" stroke-width="5"/>
<circle cx="695.4" cy="1692.7" r="12.5" fill="#fff" stroke="#000" stroke-width="5"/>
<circle cx="710.3" cy="1686.3" r="12.5" fill="#fff" stroke="#000" stroke-width="5"/>
<circle cx="728.5" cy="1717.2" r="12.5" fill="#fff" stroke="#000" stroke-width="5"/>
<circle cx="680.5" cy="1729.0" r="12.5" fill="#fff" stroke="#000" stroke-width="5"/>
<circle cx="676.2" cy="1735.4" r="12.5" fill="#fff" stroke="#000" stroke-width="5"/>
<circle cx="712.5" cy="1729.0" r="12.5" fill="#fff" stroke="#000" stroke-width="5"/>
<circle cx="712.5" cy="1741.8" r="12.5" fill="#fff" stroke="#000" stroke-width="5"/>
<circle cx="665.1" cy="1761.0" r="12.5" fill="#fff" stroke="#000" stroke-width="5"/>
<circle cx="696.5" cy="1761.0" r="12.5" fill="#fff" stroke="#000" stroke-width="5"/>
<circle cx="742.8" cy="1767.0" r="12.5" fill="#fff" stroke="#000" stroke-width="5"/>
<circle cx="832.0" cy="1656.4" r="12.5" fill="#fff" stroke="#000" stroke-width="5"/>
<circle cx="930.5" cy="1710.8" r="12.5" fill="#fff" stroke="#000" stroke-width="5"/>
<circle cx="977.0" cy="1779.8" r="12.5" fill="#fff" stroke="#000" stroke-width="5"/>
<circle cx="988.1" cy="1659.6" r="12.5" fill="#fff" stroke="#000" stroke-width="5"/>
<circle cx="1038.9" cy="1698.0" r="12.5" fill="#fff" stroke="#000" stroke-width="5"/>
<circle cx="1054.7" cy="1654.3" r="12.5" fill="#fff" stroke="#000" stroke-width="5"/>
<circle cx="945.4" cy="1647.0" r="12.5" fill="#fff" stroke="#000" stroke-width="5"/>
<circle cx="905.0" cy="1535.0" r="12.5" fill="#fff" stroke="#000" stroke-width="5"/>
<circle cx="925.0" cy="1505.0" r="12.5" fill="#fff" stroke="#000" stroke-width="5"/>
<circle cx="426.6" cy="1628.0" r="12.5" fill="#808080" stroke="#000" stroke-width="5"/>
<circle cx="838.0" cy="1366.1" r="12.5" fill="#808080" stroke="#000" stroke-width="5"/>
<circle cx="776.5" cy="1440.8" r="12.5" fill="#808080" stroke="#000" stroke-width="5"/>
<circle cx="891.0" cy="1366.1" r="12.5" fill="#808080" stroke="#000" stroke-width="5"/>
<circle cx="861.0" cy="1422.0" r="12.5" fill="#808080" stroke="#000" stroke-width="5"/>
<circle cx="984.9" cy="1440.8" r="12.5" fill="#808080" stroke="#000" stroke-width="5"/>
<circle cx="1053.2" cy="1457.9" r="12.5" fill="#808080" stroke="#000" stroke-width="5"/>
<circle cx="653.8" cy="1491.6" r="12.5" fill="#808080" stroke="#000" stroke-width="5"/>
<circle cx="735.5" cy="1521.9" r="12.5" fill="#808080" stroke="#000" stroke-width="5"/>
<circle cx="689.0" cy="1600.9" r="12.5" fill="#808080" stroke="#000" stroke-width="5"/>
<circle cx="643.1" cy="1616.9" r="12.5" fill="#808080" stroke="#000" stroke-width="5"/>
<circle cx="696.5" cy="1623.3" r="12.5" fill="#808080" stroke="#000" stroke-width="5"/>
<circle cx="788.3" cy="1542.2" r="12.5" fill="#808080" stroke="#000" stroke-width="5"/>
<circle cx="817.1" cy="1472.8" r="12.5" fill="#808080" stroke="#000" stroke-width="5"/>
<circle cx="845.9" cy="1478.1" r="12.5" fill="#808080" stroke="#000" stroke-width="5"/>
<circle cx="817.1" cy="1510.2" r="12.5" fill="#808080" stroke="#000" stroke-width="5"/>
<circle cx="826.7" cy="1528.3" r="12.5" fill="#808080" stroke="#000" stroke-width="5"/>
<circle cx="820.3" cy="1553.9" r="12.5" fill="#808080" stroke="#000" stroke-width="5"/>
<circle cx="748.8" cy="1578.5" r="12.5" fill="#808080" stroke="#000" stroke-width="5"/>
<circle cx="788.3" cy="1616.9" r="12.5" fill="#808080" stroke="#000" stroke-width="5"/>
<circle cx="839.5" cy="1609.4" r="12.5" fill="#808080" stroke="#000" stroke-width="5"/>
<circle cx="845.9" cy="1635.1" r="12.5" fill="#808080" stroke="#000" stroke-width="5"/>
<circle cx="788.3" cy="1643.6" r="12.5" fill="#808080" stroke="#000" stroke-width="5"/>
<circle cx="748.8" cy="1643.6" r="12.5" fill="#808080" stroke="#000" stroke-width="5"/>
<circle cx="727.4" cy="1645.7" r="12.5" fill="#808080" stroke="#000" stroke-width="5"/>
<circle cx="915.9" cy="1472.4" r="12.5" fill="#808080" stroke="#000" stroke-width="5"/>
<circle cx="889.9" cy="1510.2" r="12.5" fill="#808080" stroke="#000" stroke-width="5"/>
<circle cx="1032.9" cy="1541.1" r="12.5" fill="#808080" stroke="#000" stroke-width="5"/>
<circle cx="941.8" cy="1528.3" r="12.5" fill="#808080" stroke="#000" stroke-width="5"/>
<circle cx="933.7" cy="1572.1" r="12.5" fill="#808080" stroke="#000" stroke-width="5"/>
<circle cx="957.1" cy="1572.1" r="12.5" fill="#808080" stroke="#000" stroke-width="5"/>
<circle cx="975.3" cy="1591.3" r="12.5" fill="#808080" stroke="#000" stroke-width="5"/>
<circle cx="883.1" cy="1578.5" r="12.5" fill="#808080" stroke="#000" stroke-width="5"/>
<circle cx="909.1" cy="1597.7" r="12.5" fill="#808080" stroke="#000" stroke-width="5"/>
<circle cx="1013.7" cy="1560.3" r="12.5" fill="#808080" stroke="#000" stroke-width="5"/>
<circle cx="1014.8" cy="1591.3" r="12.5" fill="#808080" stroke="#000" stroke-width="5"/>
<circle cx="1053.2" cy="1584.9" r="12.5" fill="#808080" stroke="#000" stroke-width="5"/>
<circle cx="1075.6" cy="1584.9" r="12.5" fill="#808080" stroke="#000" stroke-width="5"/>
<circle cx="1076.7" cy="1609.4" r="12.5" fill="#808080" stroke="#000" stroke-width="5"/>
<circle cx="883.1" cy="1616.9" r="12.5" fill="#808080" stroke="#000" stroke-width="5"/>
<circle cx="943.3" cy="1618.0" r="12.5" fill="#808080" stroke="#000" stroke-width="5"/>
<circle cx="979.6" cy="1622.3" r="12.5" fill="#808080" stroke="#000" stroke-width="5"/>
<circle cx="998.8" cy="1635.1" r="12.5" fill="#808080" stroke="#000" stroke-width="5"/>
<circle cx="1022.3" cy="1628.7" r="12.5" fill="#808080" stroke="#000" stroke-width="5"/>
<circle cx="945.4" cy="1640.4" r="12.5" fill="#808080" stroke="#000" stroke-width="5"/>
<circle cx="868.5" cy="1639.3" r="12.5" fill="#808080" stroke="#000" stroke-width="5"/>
<circle cx="1121.9" cy="1579.1" r="12.5" fill="#808080" stroke="#000" stroke-width="5"/>
<circle cx="718.9" cy="1685.2" r="12.5" fill="#808080" stroke="#000" stroke-width="5"/>
<circle cx="733.8" cy="1685.2" r="12.5" fill="#808080" stroke="#000" stroke-width="5"/>
<circle cx="740.2" cy="1694.8" r="12.5" fill="#808080" stroke="#000" stroke-width="5"/>
<circle cx="764.8" cy="1710.8" r="12.5" fill="#808080" stroke="#000" stroke-width="5"/>
<circle cx="833.7" cy="1804.8" r="12.5" fill="#808080" stroke="#000" stroke-width="5"/>
<circle cx="827.8" cy="1686.3" r="12.5" fill="#808080" stroke="#000" stroke-width="5"/>
<circle cx="849.1" cy="1666.0" r="12.5" fill="#808080" stroke="#000" stroke-width="5"/>
<circle cx="853.4" cy="1692.7" r="12.5" fill="#808080" stroke="#000" stroke-width="5"/>
<circle cx="951.8" cy="1701.2" r="12.5" fill="#808080" stroke="#000" stroke-width="5"/>
<circle cx="871.7" cy="1666.7" r="12.5" fill="#808080" stroke="#000" stroke-width="5"/>
<circle cx="874.9" cy="1691.6" r="12.5" fill="#808080" stroke="#000" stroke-width="5"/>
<circle cx="920.8" cy="1659.6" r="12.5" fill="#808080" stroke="#000" stroke-width="5"/>
<circle cx="913.4" cy="1673.1" r="12.5" fill="#808080" stroke="#000" stroke-width="5"/>
<circle cx="909.5" cy="1704.4" r="12.5" fill="#808080" stroke="#000" stroke-width="5"/>
<circle cx="939.0" cy="1691.6" r="12.5" fill="#808080" stroke="#000" stroke-width="5"/>
<circle cx="951.8" cy="1666.0" r="12.5" fill="#808080" stroke="#000" stroke-width="5"/>
<circle cx="962.5" cy="1673.5" r="12.5" fill="#808080" stroke="#000" stroke-width="5"/>
<circle cx="960.3" cy="1685.2" r="12.5" fill="#808080" stroke="#000" stroke-width="5"/>
<circle cx="974.2" cy="1710.8" r="12.5" fill="#808080" stroke="#000" stroke-width="5"/>
<circle cx="925.8" cy="1735.8" r="12.5" fill="#808080" stroke="#000" stroke-width="5"/>
<circle cx="942.8" cy="1779.8" r="12.5" fill="#808080" stroke="#000" stroke-width="5"/>
<circle cx="1006.9" cy="1660.7" r="12.5" fill="#808080" stroke="#000" stroke-width="5"/>
<circle cx="991.3" cy="1679.9" r="12.5" fill="#808080" stroke="#000" stroke-width="5"/>
<circle cx="1008.4" cy="1679.9" r="12.5" fill="#808080" stroke="#000" stroke-width="5"/>
<circle cx="1090.8" cy="1651.0" r="12.5" fill="#808080" stroke="#000" stroke-width="5"/>
<circle cx="1140.7" cy="1672.9" r="12.5" fill="#808080" stroke="#000" stroke-width="5"/>
<circle cx="322.4" cy="1666.1" r="6.9" fill="#5e5e5e"/>
<circle cx="347.0" cy="1661.3" r="6.9" fill="#5e5e5e"/>
<circle cx="371.5" cy="1656.5" r="6.9" fill="#5e5e5e"/>
<circle cx="396.1" cy="1651.7" r="6.9" fill="#5e5e5e"/>
<circle cx="420.6" cy="1646.9" r="6.9" fill="#5e5e5e"/>
<circle cx="445.2" cy="1642.1" r="6.9" fill="#5e5e5e"/>
<circle cx="469.7" cy="1637.4" r="6.9" fill="#5e5e5e"/>
<circle cx="494.3" cy="1632.6" r="6.9" fill="#5e5e5e"/>
<circle cx="518.8" cy="1627.8" r="6.9" fill="#5e5e5e"/>
<circle cx="543.4" cy="1623.0" r="6.9" fill="#5e5e5e"/>
<circle cx="567.9" cy="1618.2" r="6.9" fill="#5e5e5e"/>
<circle cx="592.5" cy="1613.4" r="6.9" fill="#5e5e5e"/>
<circle cx="617.0" cy="1608.6" r="6.9" fill="#5e5e5e"/>
<circle cx="641.6" cy="1603.8" r="6.9" fill="#5e5e5e"/>
<circle cx="666.1" cy="1599.0" r="6.9" fill="#5e5e5e"/>
<circle cx="690.7" cy="1594.2" r="6.9" fill="#5e5e5e"/>
<circle cx="715.2" cy="1589.4" r="6.9" fill="#5e5e5e"/>
<circle cx="739.8" cy="1584.7" r="6.9" fill="#5e5e5e"/>
<circle cx="764.3" cy="1579.9" r="6.9" fill="#5e5e5e"/>
<circle cx="788.9" cy="1575.1" r="6.9" fill="#5e5e5e"/>
<circle cx="813.4" cy="1570.3" r="6.9" fill="#5e5e5e"/>
<circle cx="838.0" cy="1565.5" r="6.9" fill="#5e5e5e"/>
<circle cx="862.5" cy="1560.7" r="6.9" fill="#5e5e5e"/>
<circle cx="887.1" cy="1555.9" r="6.9" fill="#5e5e5e"/>
<circle cx="911.6" cy="1551.1" r="6.9" fill="#5e5e5e"/>
<circle cx="936.2" cy="1546.3" r="6.9" fill="#5e5e5e"/>
<circle cx="960.7" cy="1541.5" r="6.9" fill="#5e5e5e"/>
<circle cx="985.3" cy="1536.7" r="6.9" fill="#5e5e5e"/>
<circle cx="1009.8" cy="1532.0" r="6.9" fill="#5e5e5e"/>
<circle cx="1034.4" cy="1527.2" r="6.9" fill="#5e5e5e"/>
<circle cx="1058.9" cy="1522.4" r="6.9" fill="#5e5e5e"/>
<circle cx="1083.5" cy="1517.6" r="6.9" fill="#5e5e5e"/>
<circle cx="1108.0" cy="1512.8" r="6.9" fill="#5e5e5e"/>
<circle cx="1132.6" cy="1508.0" r="6.9" fill="#5e5e5e"/>
<line x1="322" y1="1596.8" x2="1141.1" y2="1618" stroke="#000" stroke-width="7.90"/>
<rect x="193.0" y="1190.0" width="9.0" height="768.0" fill="#000"/>
<rect x="182.0" y="1938.2" width="1263.0" height="9.7" fill="#000"/>
<rect x="182.0" y="1938.5" width="16.0" height="9.0" fill="#000"/>
<text x="157.4" y="1958.6" font-size="50.57" font-weight="normal" text-anchor="end" >0</text>
<rect x="182.0" y="1813.1" width="16.0" height="9.0" fill="#000"/>
<text x="157.4" y="1833.2" font-size="50.57" font-weight="normal" text-anchor="end" >2</text>
<rect x="182.0" y="1687.7" width="16.0" height="9.0" fill="#000"/>
<text x="157.4" y="1707.8" font-size="50.57" font-weight="normal" text-anchor="end" >4</text>
<rect x="182.0" y="1562.3" width="16.0" height="9.0" fill="#000"/>
<text x="157.4" y="1582.4" font-size="50.57" font-weight="normal" text-anchor="end" >6</text>
<rect x="182.0" y="1436.9" width="16.0" height="9.0" fill="#000"/>
<text x="157.4" y="1457.0" font-size="50.57" font-weight="normal" text-anchor="end" >8</text>
<rect x="182.0" y="1311.5" width="16.0" height="9.0" fill="#000"/>
<text x="157.4" y="1331.6" font-size="50.57" font-weight="normal" text-anchor="end" >10</text>
<rect x="182.0" y="1186.1" width="16.0" height="9.0" fill="#000"/>
<text x="157.4" y="1206.2" font-size="50.57" font-weight="normal" text-anchor="end" >12</text>
<rect x="192.5" y="1942.0" width="10.0" height="16.0" fill="#000"/>
<text x="197.5" y="2017.5" font-size="50.57" font-weight="normal" text-anchor="middle" >0</text>
<rect x="504.4" y="1942.0" width="10.0" height="16.0" fill="#000"/>
<text x="509.4" y="2017.5" font-size="50.57" font-weight="normal" text-anchor="middle" >20</text>
<rect x="816.2" y="1942.0" width="10.0" height="16.0" fill="#000"/>
<text x="821.2" y="2017.5" font-size="50.57" font-weight="normal" text-anchor="middle" >40</text>
<rect x="1128.1" y="1942.0" width="10.0" height="16.0" fill="#000"/>
<text x="1133.1" y="2017.5" font-size="50.57" font-weight="normal" text-anchor="middle" >60</text>
<rect x="1440.0" y="1942.0" width="10.0" height="16.0" fill="#000"/>
<text x="1445.0" y="2017.5" font-size="50.57" font-weight="normal" text-anchor="middle" >80</text>
<text x="643.4" y="2105.0" font-size="59" font-weight="bold" text-anchor="start" >Fat Mass (%)</text>
<text transform="translate(67.6,1573) rotate(-90)" x="0" y="0" font-size="59" font-weight="bold" text-anchor="middle">Serum Uric Acid (mg/dL)</text>
<circle cx="971" cy="1870.2" r="12.5" fill="#fff" stroke="#000" stroke-width="5"/>
<text x="997.8" y="1889.2" font-size="59" font-weight="normal" text-anchor="start" >Controls</text>
<circle cx="1275.5" cy="1870.2" r="12.5" fill="#808080" stroke="#000" stroke-width="5"/>
<text x="1299.8" y="1889.2" font-size="59" font-weight="normal" text-anchor="start" >PWS</text>
<circle cx="660.0" cy="2572.6" r="12.5" fill="#fff" stroke="#000" stroke-width="5"/>
<circle cx="888.3" cy="2434.5" r="12.5" fill="#fff" stroke="#000" stroke-width="5"/>
<circle cx="874.8" cy="2465.9" r="12.5" fill="#fff" stroke="#000" stroke-width="5"/>
<circle cx="894.0" cy="2485.1" r="12.5" fill="#fff" stroke="#000" stroke-width="5"/>
<circle cx="874.4" cy="2528.9" r="12.5" fill="#fff" stroke="#000" stroke-width="5"/>
<circle cx="867.6" cy="2565.2" r="12.5" fill="#fff" stroke="#000" stroke-width="5"/>
<circle cx="860.5" cy="2572.6" r="12.5" fill="#fff" stroke="#000" stroke-width="5"/>
<circle cx="921.8" cy="2566.2" r="12.5" fill="#fff" stroke="#000" stroke-width="5"/>
<circle cx="816.7" cy="2585.5" r="12.5" fill="#fff" stroke="#000" stroke-width="5"/>
<circle cx="828.5" cy="2585.5" r="12.5" fill="#fff" stroke="#000" stroke-width="5"/>
<circle cx="838.1" cy="2595.1" r="12.5" fill="#fff" stroke="#000" stroke-width="5"/>
<circle cx="916.0" cy="2602.5" r="12.5" fill="#fff" stroke="#000" stroke-width="5"/>
<circle cx="1026.2" cy="2485.1" r="12.5" fill="#fff" stroke="#000" stroke-width="5"/>
<circle cx="1084.9" cy="2503.9" r="12.5" fill="#fff" stroke="#000" stroke-width="5"/>
<circle cx="1114.8" cy="2522.0" r="12.5" fill="#fff" stroke="#000" stroke-width="5"/>
<circle cx="1233.7" cy="2454.0" r="12.5" fill="#fff" stroke="#000" stroke-width="5"/>
<circle cx="626.5" cy="2626.0" r="12.5" fill="#fff" stroke="#000" stroke-width="5"/>
<circle cx="677.8" cy="2659.1" r="12.5" fill="#fff" stroke="#000" stroke-width="5"/>
<circle cx="653.2" cy="2671.9" r="12.5" fill="#fff" stroke="#000" stroke-width="5"/>
<circle cx="501.0" cy="2722.7" r="12.5" fill="#fff" stroke="#000" stroke-width="5"/>
<circle cx="679.9" cy="2703.9" r="12.5" fill="#fff" stroke="#000" stroke-width="5"/>
<circle cx="562.5" cy="2878.6" r="12.5" fill="#fff" stroke="#000" stroke-width="5"/>
<circle cx="548.6" cy="2904.2" r="12.5" fill="#fff" stroke="#000" stroke-width="5"/>
<circle cx="578.5" cy="2898.9" r="12.5" fill="#fff" stroke="#000" stroke-width="5"/>
<circle cx="562.5" cy="2918.1" r="12.5" fill="#fff" stroke="#000" stroke-width="5"/>
<circle cx="588.1" cy="2853.0" r="12.5" fill="#fff" stroke="#000" stroke-width="5"/>
<circle cx="609.4" cy="2892.5" r="12.5" fill="#fff" stroke="#000" stroke-width="5"/>
<circle cx="622.3" cy="2896.7" r="12.5" fill="#fff" stroke="#000" stroke-width="5"/>
<circle cx="647.9" cy="2869.0" r="12.5" fill="#fff" stroke="#000" stroke-width="5"/>
<circle cx="666.0" cy="2910.6" r="12.5" fill="#fff" stroke="#000" stroke-width="5"/>
<circle cx="691.6" cy="2929.8" r="12.5" fill="#fff" stroke="#000" stroke-width="5"/>
<circle cx="686.3" cy="2866.9" r="12.5" fill="#fff" stroke="#000" stroke-width="5"/>
<circle cx="690.6" cy="2879.7" r="12.5" fill="#fff" stroke="#000" stroke-width="5"/>
<circle cx="690.6" cy="2892.5" r="12.5" fill="#fff" stroke="#000" stroke-width="5"/>
<circle cx="694.8" cy="2802.8" r="12.5" fill="#fff" stroke="#000" stroke-width="5"/>
<circle cx="665.0" cy="2802.8" r="12.5" fill="#fff" stroke="#000" stroke-width="5"/>
<circle cx="714.3" cy="2622.8" r="12.5" fill="#fff" stroke="#000" stroke-width="5"/>
<circle cx="714.3" cy="2635.6" r="12.5" fill="#fff" stroke="#000" stroke-width="5"/>
<circle cx="852.0" cy="2616.4" r="12.5" fill="#fff" stroke="#000" stroke-width="5"/>
<circle cx="939.5" cy="2622.8" r="12.5" fill="#fff" stroke="#000" stroke-width="5"/>
<circle cx="739.9" cy="2646.3" r="12.5" fill="#fff" stroke="#000" stroke-width="5"/>
<circle cx="753.8" cy="2654.8" r="12.5" fill="#fff" stroke="#000" stroke-width="5"/>
<circle cx="769.8" cy="2665.5" r="12.5" fill="#fff" stroke="#000" stroke-width="5"/>
<circle cx="782.6" cy="2678.3" r="12.5" fill="#fff" stroke="#000" stroke-width="5"/>
<circle cx="715.3" cy="2674.0" r="12.5" fill="#fff" stroke="#000" stroke-width="5"/>
<circle cx="742.0" cy="2708.2" r="12.5" fill="#fff" stroke="#000" stroke-width="5"/>
<circle cx="780.5" cy="2699.7" r="12.5" fill="#fff" stroke="#000" stroke-width="5"/>
<circle cx="808.2" cy="2665.5" r="12.5" fill="#fff" stroke="#000" stroke-width="5"/>
<circle cx="831.7" cy="2663.4" r="12.5" fill="#fff" stroke="#000" stroke-width="5"/>
<circle cx="846.6" cy="2655.9" r="12.5" fill="#fff" stroke="#000" stroke-width="5"/>
<circle cx="876.5" cy="2645.2" r="12.5" fill="#fff" stroke="#000" stroke-width="5"/>
<circle cx="885.1" cy="2665.5" r="12.5" fill="#fff" stroke="#000" stroke-width="5"/>
<circle cx="846.6" cy="2684.7" r="12.5" fill="#fff" stroke="#000" stroke-width="5"/>
<circle cx="817.8" cy="2693.3" r="12.5" fill="#fff" stroke="#000" stroke-width="5"/>
<circle cx="814.6" cy="2714.6" r="12.5" fill="#fff" stroke="#000" stroke-width="5"/>
<circle cx="771.9" cy="2729.6" r="12.5" fill="#fff" stroke="#000" stroke-width="5"/>
<circle cx="817.8" cy="2740.2" r="12.5" fill="#fff" stroke="#000" stroke-width="5"/>
<circle cx="857.3" cy="2738.1" r="12.5" fill="#fff" stroke="#000" stroke-width="5"/>
<circle cx="880.8" cy="2722.1" r="12.5" fill="#fff" stroke="#000" stroke-width="5"/>
<circle cx="880.8" cy="2703.9" r="12.5" fill="#fff" stroke="#000" stroke-width="5"/>
<circle cx="894.7" cy="2691.1" r="12.5" fill="#fff" stroke="#000" stroke-width="5"/>
<circle cx="921.4" cy="2691.1" r="12.5" fill="#fff" stroke="#000" stroke-width="5"/>
<circle cx="911.8" cy="2710.3" r="12.5" fill="#fff" stroke="#000" stroke-width="5"/>
<circle cx="958.7" cy="2666.6" r="12.5" fill="#fff" stroke="#000" stroke-width="5"/>
<circle cx="848.8" cy="2766.9" r="12.5" fill="#fff" stroke="#000" stroke-width="5"/>
<circle cx="907.5" cy="2765.9" r="12.5" fill="#fff" stroke="#000" stroke-width="5"/>
<circle cx="791.1" cy="2748.8" r="12.5" fill="#fff" stroke="#000" stroke-width="5"/>
<circle cx="793.3" cy="2759.4" r="12.5" fill="#fff" stroke="#000" stroke-width="5"/>
<circle cx="778.3" cy="2773.3" r="12.5" fill="#fff" stroke="#000" stroke-width="5"/>
<circle cx="803.9" cy="2772.3" r="12.5" fill="#fff" stroke="#000" stroke-width="5"/>
<circle cx="757.0" cy="2789.3" r="12.5" fill="#fff" stroke="#000" stroke-width="5"/>
<circle cx="840.2" cy="2793.6" r="12.5" fill="#fff" stroke="#000" stroke-width="5"/>
<circle cx="718.0" cy="2700.0" r="12.5" fill="#fff" stroke="#000" stroke-width="5"/>
<circle cx="720.0" cy="2725.0" r="12.5" fill="#fff" stroke="#000" stroke-width="5"/>
<circle cx="829.6" cy="2807.1" r="12.5" fill="#fff" stroke="#000" stroke-width="5"/>
<circle cx="762.3" cy="2810.3" r="12.5" fill="#fff" stroke="#000" stroke-width="5"/>
<circle cx="752.7" cy="2837.0" r="12.5" fill="#fff" stroke="#000" stroke-width="5"/>
<circle cx="716.4" cy="2842.3" r="12.5" fill="#fff" stroke="#000" stroke-width="5"/>
<circle cx="736.7" cy="2855.1" r="12.5" fill="#fff" stroke="#000" stroke-width="5"/>
<circle cx="719.6" cy="2879.7" r="12.5" fill="#fff" stroke="#000" stroke-width="5"/>
<circle cx="795.0" cy="2867.3" r="12.5" fill="#fff" stroke="#000" stroke-width="5"/>
<circle cx="1042.9" cy="2609.6" r="12.5" fill="#fff" stroke="#000" stroke-width="5"/>
<circle cx="1034.3" cy="2616.0" r="12.5" fill="#fff" stroke="#000" stroke-width="5"/>
<circle cx="999.1" cy="2627.8" r="12.5" fill="#fff" stroke="#000" stroke-width="5"/>
<circle cx="999.1" cy="2647.0" r="12.5" fill="#fff" stroke="#000" stroke-width="5"/>
<circle cx="1040.7" cy="2647.0" r="12.5" fill="#fff" stroke="#000" stroke-width="5"/>
<circle cx="1022.6" cy="2666.2" r="12.5" fill="#fff" stroke="#000" stroke-width="5"/>
<circle cx="1035.4" cy="2672.6" r="12.5" fill="#fff" stroke="#000" stroke-width="5"/>
<circle cx="1055.7" cy="2679.0" r="12.5" fill="#fff" stroke="#000" stroke-width="5"/>
<circle cx="1014.0" cy="2697.1" r="12.5" fill="#fff" stroke="#000" stroke-width="5"/>
<circle cx="973.5" cy="2672.6" r="12.5" fill="#fff" stroke="#000" stroke-width="5"/>
<circle cx="970.3" cy="2766.5" r="12.5" fill="#fff" stroke="#000" stroke-width="5"/>
<circle cx="1089.8" cy="2766.5" r="12.5" fill="#fff" stroke="#000" stroke-width="5"/>
<circle cx="959.0" cy="2910.6" r="12.5" fill="#fff" stroke="#000" stroke-width="5"/>
<circle cx="713.3" cy="2691.7" r="12.5" fill="#fff" stroke="#000" stroke-width="5"/>
<circle cx="722.7" cy="2685.0" r="12.5" fill="#fff" stroke="#000" stroke-width="5"/>
<circle cx="710.7" cy="2708.8" r="12.5" fill="#fff" stroke="#000" stroke-width="5"/>
<circle cx="724.4" cy="2700.3" r="12.5" fill="#fff" stroke="#000" stroke-width="5"/>
<circle cx="709.0" cy="2725.9" r="12.5" fill="#fff" stroke="#000" stroke-width="5"/>
<circle cx="721.0" cy="2715.6" r="12.5" fill="#fff" stroke="#000" stroke-width="5"/>
<circle cx="702.2" cy="2739.6" r="12.5" fill="#fff" stroke="#000" stroke-width="5"/>
<circle cx="719.3" cy="2736.1" r="12.5" fill="#fff" stroke="#000" stroke-width="5"/>
<circle cx="760.3" cy="2679.8" r="12.5" fill="#fff" stroke="#000" stroke-width="5"/>
<circle cx="770.5" cy="2688.3" r="12.5" fill="#fff" stroke="#000" stroke-width="5"/>
<circle cx="785.9" cy="2702.0" r="12.5" fill="#fff" stroke="#000" stroke-width="5"/>
<circle cx="602.5" cy="2789.5" r="12.5" fill="#fff" stroke="#000" stroke-width="5"/>
<circle cx="613.0" cy="2891.0" r="12.5" fill="#fff" stroke="#000" stroke-width="5"/>
<circle cx="616.0" cy="2902.0" r="12.5" fill="#fff" stroke="#000" stroke-width="5"/>
<circle cx="624.0" cy="2900.0" r="12.5" fill="#fff" stroke="#000" stroke-width="5"/>
<circle cx="693.0" cy="2876.0" r="12.5" fill="#fff" stroke="#000" stroke-width="5"/>
<circle cx="697.0" cy="2888.0" r="12.5" fill="#fff" stroke="#000" stroke-width="5"/>
<circle cx="705.0" cy="2880.0" r="12.5" fill="#fff" stroke="#000" stroke-width="5"/>
<circle cx="688.0" cy="2804.0" r="12.5" fill="#fff" stroke="#000" stroke-width="5"/>
<circle cx="702.3" cy="2516.1" r="12.5" fill="#808080" stroke="#000" stroke-width="5"/>
<circle cx="710.2" cy="2572.6" r="12.5" fill="#808080" stroke="#000" stroke-width="5"/>
<circle cx="790.7" cy="2516.1" r="12.5" fill="#808080" stroke="#000" stroke-width="5"/>
<circle cx="868.0" cy="2590.8" r="12.5" fill="#808080" stroke="#000" stroke-width="5"/>
<circle cx="889.3" cy="2590.8" r="12.5" fill="#808080" stroke="#000" stroke-width="5"/>
<circle cx="526.2" cy="2622.8" r="12.5" fill="#808080" stroke="#000" stroke-width="5"/>
<circle cx="567.8" cy="2628.8" r="12.5" fill="#808080" stroke="#000" stroke-width="5"/>
<circle cx="641.5" cy="2616.4" r="12.5" fill="#808080" stroke="#000" stroke-width="5"/>
<circle cx="624.8" cy="2641.6" r="12.5" fill="#808080" stroke="#000" stroke-width="5"/>
<circle cx="682.0" cy="2622.8" r="12.5" fill="#808080" stroke="#000" stroke-width="5"/>
<circle cx="695.9" cy="2671.9" r="12.5" fill="#808080" stroke="#000" stroke-width="5"/>
<circle cx="612.0" cy="2678.7" r="12.5" fill="#808080" stroke="#000" stroke-width="5"/>
<circle cx="641.0" cy="2692.2" r="12.5" fill="#808080" stroke="#000" stroke-width="5"/>
<circle cx="542.8" cy="2691.8" r="12.5" fill="#808080" stroke="#000" stroke-width="5"/>
<circle cx="557.1" cy="2716.7" r="12.5" fill="#808080" stroke="#000" stroke-width="5"/>
<circle cx="575.3" cy="2728.5" r="12.5" fill="#808080" stroke="#000" stroke-width="5"/>
<circle cx="628.7" cy="2710.3" r="12.5" fill="#808080" stroke="#000" stroke-width="5"/>
<circle cx="645.7" cy="2722.1" r="12.5" fill="#808080" stroke="#000" stroke-width="5"/>
<circle cx="681.0" cy="2722.1" r="12.5" fill="#808080" stroke="#000" stroke-width="5"/>
<circle cx="665.0" cy="2731.7" r="12.5" fill="#808080" stroke="#000" stroke-width="5"/>
<circle cx="628.7" cy="2734.9" r="12.5" fill="#808080" stroke="#000" stroke-width="5"/>
<circle cx="647.9" cy="2747.7" r="12.5" fill="#808080" stroke="#000" stroke-width="5"/>
<circle cx="617.6" cy="2754.1" r="12.5" fill="#808080" stroke="#000" stroke-width="5"/>
<circle cx="574.2" cy="2753.0" r="12.5" fill="#808080" stroke="#000" stroke-width="5"/>
<circle cx="528.3" cy="2764.8" r="12.5" fill="#808080" stroke="#000" stroke-width="5"/>
<circle cx="551.8" cy="2765.9" r="12.5" fill="#808080" stroke="#000" stroke-width="5"/>
<circle cx="564.6" cy="2771.2" r="12.5" fill="#808080" stroke="#000" stroke-width="5"/>
<circle cx="577.4" cy="2776.5" r="12.5" fill="#808080" stroke="#000" stroke-width="5"/>
<circle cx="524.0" cy="2785.1" r="12.5" fill="#808080" stroke="#000" stroke-width="5"/>
<circle cx="689.5" cy="2755.2" r="12.5" fill="#808080" stroke="#000" stroke-width="5"/>
<circle cx="658.5" cy="2778.7" r="12.5" fill="#808080" stroke="#000" stroke-width="5"/>
<circle cx="630.8" cy="2789.3" r="12.5" fill="#808080" stroke="#000" stroke-width="5"/>
<circle cx="479.2" cy="2835.9" r="12.5" fill="#808080" stroke="#000" stroke-width="5"/>
<circle cx="483.5" cy="2860.5" r="12.5" fill="#808080" stroke="#000" stroke-width="5"/>
<circle cx="509.1" cy="2816.7" r="12.5" fill="#808080" stroke="#000" stroke-width="5"/>
<circle cx="505.9" cy="2842.3" r="12.5" fill="#808080" stroke="#000" stroke-width="5"/>
<circle cx="523.0" cy="2834.8" r="12.5" fill="#808080" stroke="#000" stroke-width="5"/>
<circle cx="539.0" cy="2829.5" r="12.5" fill="#808080" stroke="#000" stroke-width="5"/>
<circle cx="551.8" cy="2825.2" r="12.5" fill="#808080" stroke="#000" stroke-width="5"/>
<circle cx="575.3" cy="2816.7" r="12.5" fill="#808080" stroke="#000" stroke-width="5"/>
<circle cx="599.8" cy="2810.3" r="12.5" fill="#808080" stroke="#000" stroke-width="5"/>
<circle cx="624.4" cy="2803.9" r="12.5" fill="#808080" stroke="#000" stroke-width="5"/>
<circle cx="565.7" cy="2854.0" r="12.5" fill="#808080" stroke="#000" stroke-width="5"/>
<circle cx="620.1" cy="2829.5" r="12.5" fill="#808080" stroke="#000" stroke-width="5"/>
<circle cx="635.1" cy="2829.5" r="12.5" fill="#808080" stroke="#000" stroke-width="5"/>
<circle cx="621.2" cy="2843.4" r="12.5" fill="#808080" stroke="#000" stroke-width="5"/>
<circle cx="605.2" cy="2860.5" r="12.5" fill="#808080" stroke="#000" stroke-width="5"/>
<circle cx="652.1" cy="2847.6" r="12.5" fill="#808080" stroke="#000" stroke-width="5"/>
<circle cx="656.4" cy="2800.0" r="12.5" fill="#808080" stroke="#000" stroke-width="5"/>
<circle cx="638.3" cy="2886.1" r="12.5" fill="#808080" stroke="#000" stroke-width="5"/>
<circle cx="586.0" cy="2929.8" r="12.5" fill="#808080" stroke="#000" stroke-width="5"/>
<circle cx="577.0" cy="2955.5" r="12.5" fill="#808080" stroke="#000" stroke-width="5"/>
<circle cx="686.3" cy="2834.8" r="12.5" fill="#808080" stroke="#000" stroke-width="5"/>
<circle cx="725.0" cy="2660.2" r="12.5" fill="#808080" stroke="#000" stroke-width="5"/>
<circle cx="757.0" cy="2703.9" r="12.5" fill="#808080" stroke="#000" stroke-width="5"/>
<circle cx="817.8" cy="2678.3" r="12.5" fill="#808080" stroke="#000" stroke-width="5"/>
<circle cx="861.6" cy="2660.2" r="12.5" fill="#808080" stroke="#000" stroke-width="5"/>
<circle cx="952.3" cy="2740.2" r="12.5" fill="#808080" stroke="#000" stroke-width="5"/>
<circle cx="791.1" cy="2785.1" r="12.5" fill="#808080" stroke="#000" stroke-width="5"/>
<circle cx="737.8" cy="2765.9" r="12.5" fill="#808080" stroke="#000" stroke-width="5"/>
<circle cx="729.2" cy="2790.4" r="12.5" fill="#808080" stroke="#000" stroke-width="5"/>
<circle cx="736.7" cy="2729.6" r="12.5" fill="#808080" stroke="#000" stroke-width="5"/>
<circle cx="715.0" cy="2745.0" r="12.5" fill="#808080" stroke="#000" stroke-width="5"/>
<circle cx="791.1" cy="2811.3" r="12.5" fill="#808080" stroke="#000" stroke-width="5"/>
<circle cx="823.2" cy="2817.3" r="12.5" fill="#808080" stroke="#000" stroke-width="5"/>
<circle cx="745.2" cy="2823.1" r="12.5" fill="#808080" stroke="#000" stroke-width="5"/>
<circle cx="733.5" cy="2825.2" r="12.5" fill="#808080" stroke="#000" stroke-width="5"/>
<circle cx="731.3" cy="2837.0" r="12.5" fill="#808080" stroke="#000" stroke-width="5"/>
<circle cx="562.3" cy="2801.5" r="12.5" fill="#808080" stroke="#000" stroke-width="5"/>
<circle cx="588.0" cy="2801.0" r="12.5" fill="#808080" stroke="#000" stroke-width="5"/>
<circle cx="640.0" cy="2771.0" r="12.5" fill="#808080" stroke="#000" stroke-width="5"/>
<circle cx="718.0" cy="2773.0" r="12.5" fill="#808080" stroke="#000" stroke-width="5"/>
<circle cx="706.0" cy="2789.0" r="12.5" fill="#808080" stroke="#000" stroke-width="5"/>
<circle cx="480.1" cy="2878.4" r="6.9" fill="#5e5e5e"/>
<circle cx="502.5" cy="2867.3" r="6.9" fill="#5e5e5e"/>
<circle cx="524.9" cy="2856.1" r="6.9" fill="#5e5e5e"/>
<circle cx="547.3" cy="2845.0" r="6.9" fill="#5e5e5e"/>
<circle cx="569.7" cy="2833.8" r="6.9" fill="#5e5e5e"/>
<circle cx="592.1" cy="2822.7" r="6.9" fill="#5e5e5e"/>
<circle cx="614.5" cy="2811.5" r="6.9" fill="#5e5e5e"/>
<circle cx="636.9" cy="2800.4" r="6.9" fill="#5e5e5e"/>
<circle cx="659.3" cy="2789.2" r="6.9" fill="#5e5e5e"/>
<circle cx="681.7" cy="2778.1" r="6.9" fill="#5e5e5e"/>
<circle cx="704.1" cy="2766.9" r="6.9" fill="#5e5e5e"/>
<circle cx="726.5" cy="2755.8" r="6.9" fill="#5e5e5e"/>
<circle cx="748.9" cy="2744.7" r="6.9" fill="#5e5e5e"/>
<circle cx="771.3" cy="2733.5" r="6.9" fill="#5e5e5e"/>
<circle cx="793.7" cy="2722.4" r="6.9" fill="#5e5e5e"/>
<circle cx="816.1" cy="2711.2" r="6.9" fill="#5e5e5e"/>
<circle cx="838.5" cy="2700.1" r="6.9" fill="#5e5e5e"/>
<circle cx="861.0" cy="2688.9" r="6.9" fill="#5e5e5e"/>
<circle cx="883.4" cy="2677.8" r="6.9" fill="#5e5e5e"/>
<circle cx="905.8" cy="2666.6" r="6.9" fill="#5e5e5e"/>
<circle cx="928.2" cy="2655.5" r="6.9" fill="#5e5e5e"/>
<circle cx="950.6" cy="2644.3" r="6.9" fill="#5e5e5e"/>
<circle cx="973.0" cy="2633.2" r="6.9" fill="#5e5e5e"/>
<circle cx="995.4" cy="2622.1" r="6.9" fill="#5e5e5e"/>
<circle cx="1017.8" cy="2610.9" r="6.9" fill="#5e5e5e"/>
<circle cx="1040.2" cy="2599.8" r="6.9" fill="#5e5e5e"/>
<circle cx="1062.6" cy="2588.6" r="6.9" fill="#5e5e5e"/>
<circle cx="1085.0" cy="2577.5" r="6.9" fill="#5e5e5e"/>
<circle cx="1107.4" cy="2566.3" r="6.9" fill="#5e5e5e"/>
<circle cx="1129.8" cy="2555.2" r="6.9" fill="#5e5e5e"/>
<circle cx="1152.2" cy="2544.0" r="6.9" fill="#5e5e5e"/>
<circle cx="1174.6" cy="2532.9" r="6.9" fill="#5e5e5e"/>
<circle cx="1197.0" cy="2521.7" r="6.9" fill="#5e5e5e"/>
<circle cx="1219.4" cy="2510.6" r="6.9" fill="#5e5e5e"/>
<line x1="479.5" y1="2815.6" x2="1234.3" y2="2556.9" stroke="#000" stroke-width="7.47"/>
<rect x="185.0" y="2340.0" width="9.0" height="768.0" fill="#000"/>
<rect x="174.0" y="3088.2" width="1262.5" height="9.7" fill="#000"/>
<rect x="174.0" y="3088.5" width="16.0" height="9.0" fill="#000"/>
<text x="149.4" y="3108.6" font-size="50.57" font-weight="normal" text-anchor="end" >0</text>
<rect x="174.0" y="2963.1" width="16.0" height="9.0" fill="#000"/>
<text x="149.4" y="2983.2" font-size="50.57" font-weight="normal" text-anchor="end" >2</text>
<rect x="174.0" y="2837.7" width="16.0" height="9.0" fill="#000"/>
<text x="149.4" y="2857.8" font-size="50.57" font-weight="normal" text-anchor="end" >4</text>
<rect x="174.0" y="2712.3" width="16.0" height="9.0" fill="#000"/>
<text x="149.4" y="2732.4" font-size="50.57" font-weight="normal" text-anchor="end" >6</text>
<rect x="174.0" y="2586.9" width="16.0" height="9.0" fill="#000"/>
<text x="149.4" y="2607.0" font-size="50.57" font-weight="normal" text-anchor="end" >8</text>
<rect x="174.0" y="2461.5" width="16.0" height="9.0" fill="#000"/>
<text x="149.4" y="2481.6" font-size="50.57" font-weight="normal" text-anchor="end" >10</text>
<rect x="174.0" y="2336.1" width="16.0" height="9.0" fill="#000"/>
<text x="149.4" y="2356.2" font-size="50.57" font-weight="normal" text-anchor="end" >12</text>
<rect x="184.5" y="3092.0" width="10.0" height="16.0" fill="#000"/>
<text x="189.5" y="3167.5" font-size="50.57" font-weight="normal" text-anchor="middle" >0</text>
<rect x="340.4" y="3092.0" width="10.0" height="16.0" fill="#000"/>
<text x="345.4" y="3167.5" font-size="50.57" font-weight="normal" text-anchor="middle" >500</text>
<rect x="496.2" y="3092.0" width="10.0" height="16.0" fill="#000"/>
<text x="501.2" y="3167.5" font-size="50.57" font-weight="normal" text-anchor="middle" >1000</text>
<rect x="652.1" y="3092.0" width="10.0" height="16.0" fill="#000"/>
<text x="657.1" y="3167.5" font-size="50.57" font-weight="normal" text-anchor="middle" >1500</text>
<rect x="808.0" y="3092.0" width="10.0" height="16.0" fill="#000"/>
<text x="813.0" y="3167.5" font-size="50.57" font-weight="normal" text-anchor="middle" >2000</text>
<rect x="963.9" y="3092.0" width="10.0" height="16.0" fill="#000"/>
<text x="968.9" y="3167.5" font-size="50.57" font-weight="normal" text-anchor="middle" >2500</text>
<rect x="1119.8" y="3092.0" width="10.0" height="16.0" fill="#000"/>
<text x="1124.8" y="3167.5" font-size="50.57" font-weight="normal" text-anchor="middle" >3000</text>
<rect x="1275.6" y="3092.0" width="10.0" height="16.0" fill="#000"/>
<text x="1280.6" y="3167.5" font-size="50.57" font-weight="normal" text-anchor="middle" >3500</text>
<rect x="1431.5" y="3092.0" width="10.0" height="16.0" fill="#000"/>
<text x="1436.5" y="3167.5" font-size="50.57" font-weight="normal" text-anchor="middle" >4000</text>
<text x="331.4" y="3255.0" font-size="59" font-weight="bold" text-anchor="start" textLength="990.7" lengthAdjust="spacingAndGlyphs">Resting Energy Expenditure (kcal/24 h)</text>
<text transform="translate(67.6,2723) rotate(-90)" x="0" y="0" font-size="59" font-weight="bold" text-anchor="middle">Serum Uric Acid (mg/dL)</text>
<circle cx="971" cy="3020.2" r="12.5" fill="#fff" stroke="#000" stroke-width="5"/>
<text x="997.8" y="3039.2" font-size="59" font-weight="normal" text-anchor="start" >Controls</text>
<circle cx="1275.5" cy="3020.2" r="12.5" fill="#808080" stroke="#000" stroke-width="5"/>
<text x="1299.8" y="3039.2" font-size="59" font-weight="normal" text-anchor="start" >PWS</text>
</svg></body></html>
